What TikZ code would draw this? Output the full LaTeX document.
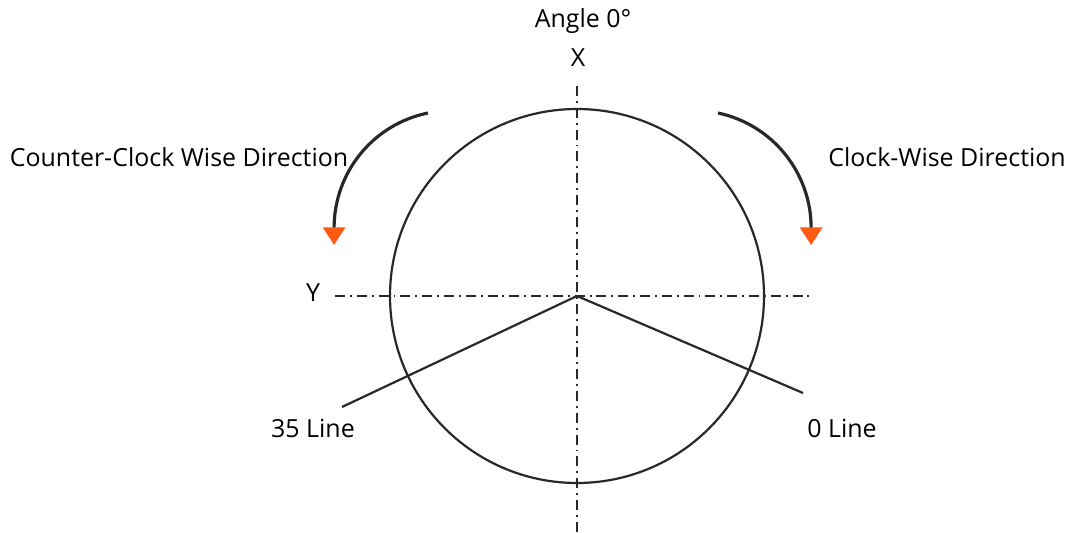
\documentclass[tikz,border=0pt]{standalone}
\usepackage{fontspec}
\setmainfont{Open Sans}
\usepackage{tikz}
\usetikzlibrary{arrows.meta,positioning}
\definecolor{cline}{RGB}{40,40,40}
\definecolor{corange}{RGB}{255,90,20}
\tikzset{
  lab/.style={font=\fontsize{14.2}{17}\selectfont,text=black,inner sep=0pt},
  axis/.style={cline,line width=0.9pt,
    dash pattern=on 5.7pt off 2.8pt on 1.1pt off 2.8pt},
  rim/.style={cline,line width=1.25pt},
  ray/.style={cline,line width=1.25pt},
  turn/.style={cline,line width=1.8pt,
    -{Triangle[length=10pt,width=12.5pt,color=corange]}}
}
\begin{document}
\begin{tikzpicture}[x=0.02cm,y=-0.02cm]
  \useasboundingbox (0,0) rectangle (1072,533);
  \coordinate (c) at (577,296);
  % axes
  \coordinate (xtop) at (577,86);
  \coordinate (xbot) at (577,533);
  \coordinate (yl) at (335,296);
  \coordinate (yr) at (812,296);
  \draw[axis] (xtop) -- (xbot);
  \draw[axis] (yl) -- (yr);
  \draw[rim] (c) circle[radius=187];
  % rays
  \coordinate (e35) at (342,407);
  \coordinate (e0) at (803,393);
  \draw[ray] (c) -- (e35);
  \draw[ray] (c) -- (e0);
  % labels
  \node[lab] (ang) at (583,21) {Angle 0°};
  \node[lab] (xl) at (578,58) {X};
  \node[lab] (ylab) at (313,293) {Y};
  \node[lab] (ccw) at (179,157) {Counter-Clock Wise Direction};
  \node[lab] (cw) at (947,157) {Clock-Wise Direction};
  \node[lab] (l35) at (313,428) {35 Line};
  \node[lab] (l0) at (842,428) {0 Line};
  % direction arrows
  \coordinate (ccws) at (428,113);
  \coordinate (cws) at (718,113);
  \draw[turn] (ccws) arc[start angle=-101.5,end angle=-180,radius=117.3]
    -- ++(0,17);
  \draw[turn] (cws) arc[start angle=-78,end angle=0,radius=117.6]
    -- ++(0,17);
\end{tikzpicture}
\end{document}
